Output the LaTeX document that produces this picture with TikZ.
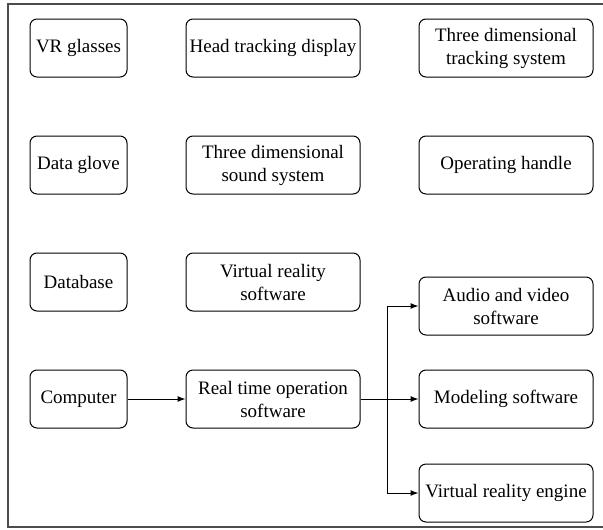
\documentclass[tikz,border=0pt]{standalone}
\usepackage{fontspec}
\setmainfont{Liberation Serif}
\usetikzlibrary{positioning}
\usetikzlibrary{matrix}
\usetikzlibrary{arrows.meta}

\tikzset{
  unit/.style={draw, rounded corners=3.5pt, align=center, minimum height=29pt,
    inner sep=1pt, font=\fontsize{9.5}{11.5}\selectfont},
  small unit/.style={unit, minimum width=48.5pt},
  wide unit/.style={unit, minimum width=87pt},
}

\begin{document}
\begin{tikzpicture}[>={Latex[length=4pt,width=3pt]}, line width=0.5pt]
        \useasboundingbox (0,0) rectangle (301.5pt,-264.5pt);
        \draw[line width=0.8pt, black!70] (4pt,-2pt) rectangle (305pt,-263.5pt);
        %% Hardware and software units.
        \matrix (units) [anchor=north west, inner sep=0pt, column sep=29pt, row sep=29pt] at (14.5pt,-9pt)
        {
          \node[small unit] (glasses) {VR glasses}; & \node[wide unit] (head) {Head tracking display}; & \node[wide unit] (track) {Three dimensional\\tracking system}; \\
          \node[small unit] (glove) {Data glove}; & \node[wide unit] (sound) {Three dimensional\\sound system}; & \node[wide unit] (handle) {Operating handle}; \\
          \node[small unit] (database) {Database}; & \node[wide unit] (vrsoft) {Virtual reality\\software}; \\
          \node[small unit] (computer) {Computer}; & \node[wide unit] (realtime) {Real time operation\\software}; & \node[wide unit] (model) {Modeling software}; \\
        };
        \node[wide unit, above=17pt of model] (audio) {Audio and video\\software};
        \node[wide unit, below=17.5pt of model] (engine) {Virtual reality engine};
        %% Draw the connections.
        \draw[->] (computer) -- (realtime);
        \draw[->] (realtime.east) -- (model.west);
        \draw[->] (realtime.east) -- ++(right:13.5pt) |- (audio.west);
        \draw[->] (realtime.east) -- ++(right:13.5pt) |- (engine.west);
      \end{tikzpicture}
\end{document}
